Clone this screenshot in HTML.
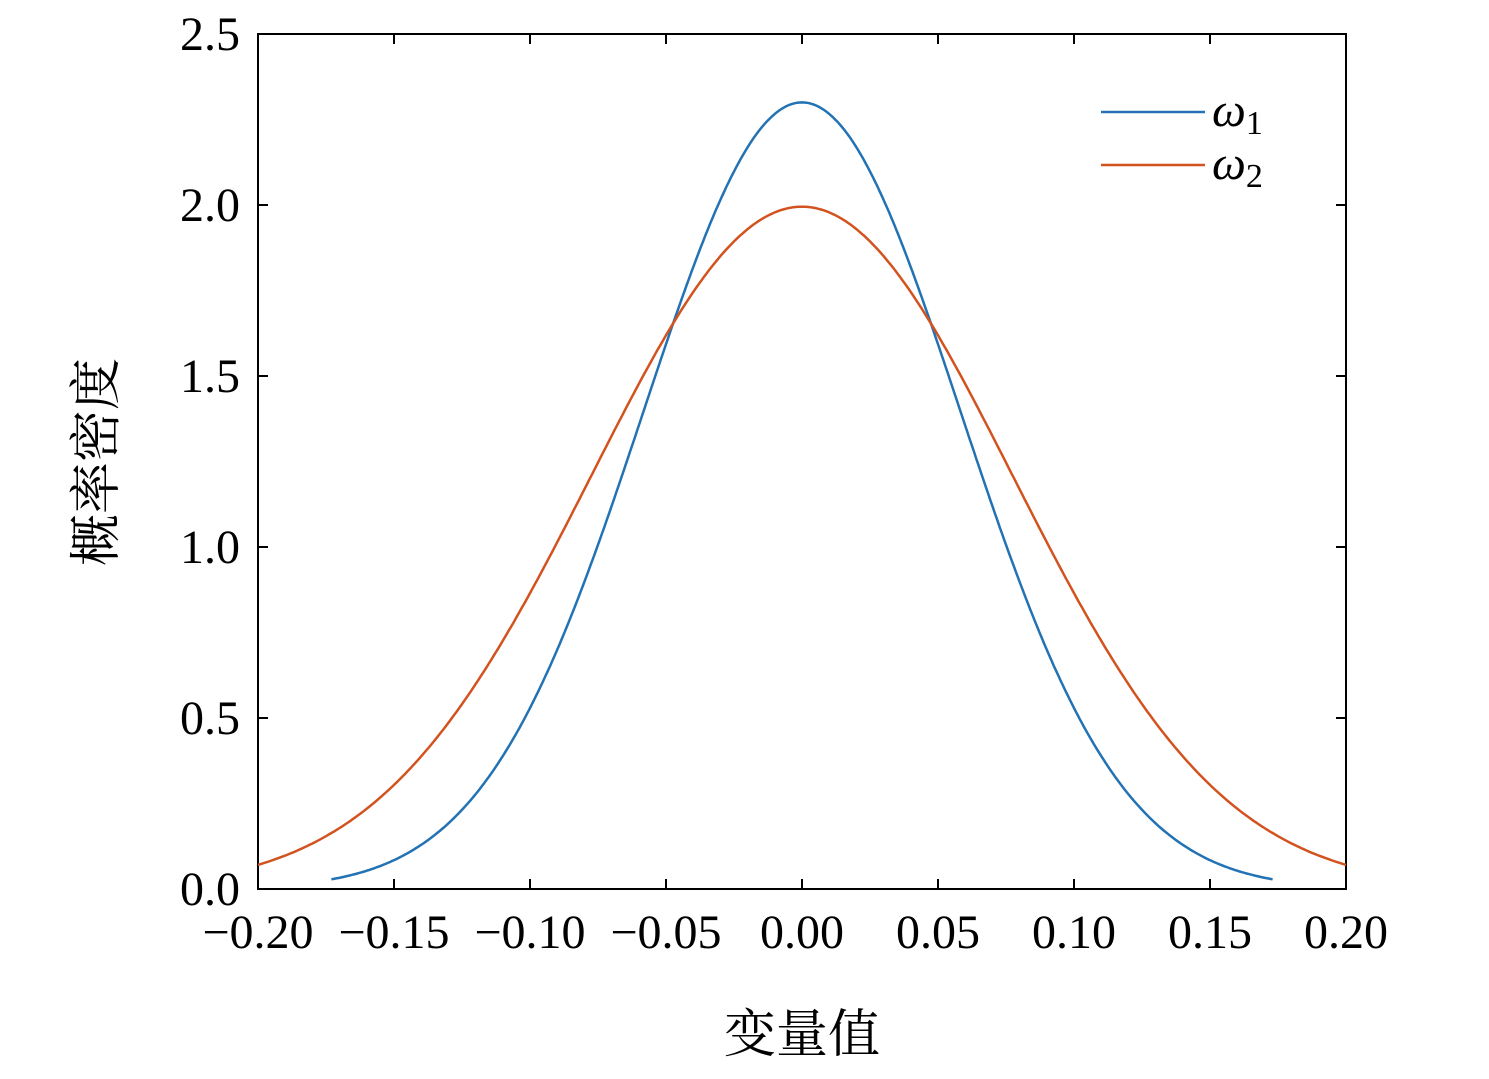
<!DOCTYPE html>
<html><head><meta charset="utf-8"><style>
html,body{margin:0;padding:0;background:#fff;}
</style></head><body>
<svg id="s" width="1489" height="1074" xmlns="http://www.w3.org/2000/svg" font-family="'Liberation Serif','Noto Serif CJK SC',serif">
</svg>
<script>
const s=document.getElementById('s');
const X0=258,X1=1346,Y0=889,Y1=34;
const fx=x=>802+x*2720, fy=y=>889-y*342;
let h='';
h+=`<rect x="${X0}" y="${Y1}" width="${X1-X0}" height="${Y0-Y1}" fill="none" stroke="#000" stroke-width="2"/>`;
for(let i=0;i<=8;i++){const x=-0.2+i*0.05,px=fx(x);
 h+=`<line x1="${px}" y1="${Y0}" x2="${px}" y2="${Y0-10}" stroke="#000" stroke-width="2"/>`;
 h+=`<line x1="${px}" y1="${Y1}" x2="${px}" y2="${Y1+10}" stroke="#000" stroke-width="2"/>`;
 let t=(x<-1e-9?'−':'')+Math.abs(x).toFixed(2);
 h+=`<text x="${px}" y="948" font-size="48" text-anchor="middle">${t}</text>`;}
for(let i=0;i<=5;i++){const y=i*0.5,py=fy(y);
 h+=`<line x1="${X0}" y1="${py}" x2="${X0+10}" y2="${py}" stroke="#000" stroke-width="2"/>`;
 h+=`<line x1="${X1}" y1="${py}" x2="${X1-10}" y2="${py}" stroke="#000" stroke-width="2"/>`;
 h+=`<text x="240" y="${py+16}" font-size="48" text-anchor="end">${y.toFixed(1)}</text>`;}
function curve(A,a,p,lim,c){let d='';for(let i=0;i<=400;i++){const x=-lim+2*lim*i/400;const y=A*Math.exp(-Math.pow(Math.abs(x)/a,p));d+=(i?'L':'M')+fx(x).toFixed(1)+','+fy(y).toFixed(1);}
 return `<path d="${d}" fill="none" stroke="${c}" stroke-width="2.5"/>`;}
h+=curve(2.30,0.0825,2,0.173,'#2272b4');
h+=curve(1.995,0.1094,2,0.2,'#d2531f');
h+=`<line x1="1101" y1="112" x2="1205" y2="112" stroke="#2272b4" stroke-width="2.5"/>`;
h+=`<line x1="1101" y1="165" x2="1205" y2="165" stroke="#d2531f" stroke-width="2.5"/>`;
h+=`<text x="1212" y="126" font-size="48" font-style="italic">ω<tspan font-style="normal" font-size="34" dy="8">1</tspan></text>`;
h+=`<text x="1212" y="179" font-size="48" font-style="italic">ω<tspan font-style="normal" font-size="34" dy="8">2</tspan></text>`;
h+=`<text x="802" y="1052" font-size="52" text-anchor="middle">变量值</text>`;
h+=`<text transform="translate(114,462) rotate(-90)" font-size="52" text-anchor="middle">概率密度</text>`;
s.innerHTML=h;
</script>
</body></html>
